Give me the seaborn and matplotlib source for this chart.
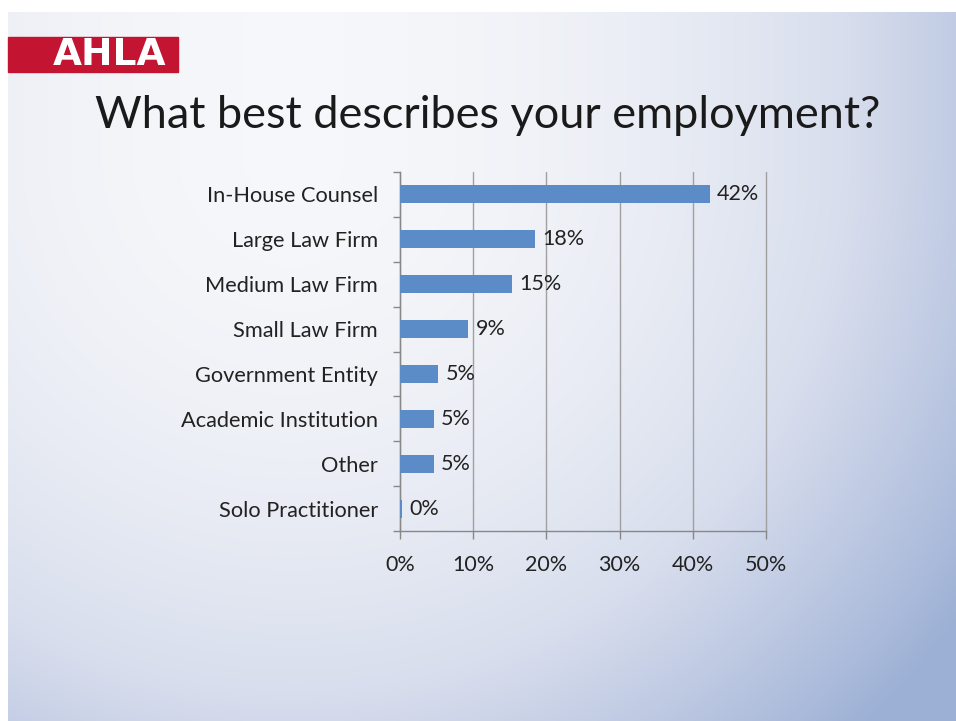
import numpy as np
import pandas as pd
import seaborn as sns
import matplotlib.pyplot as plt
from matplotlib.colors import LinearSegmentedColormap
from matplotlib.patches import Rectangle

categories = ['In-House Counsel', 'Large Law Firm', 'Medium Law Firm', 'Small Law Firm',
              'Government Entity', 'Academic Institution', 'Other', 'Solo Practitioner']
shares = [42.3, 18.4, 15.3, 9.3, 5.2, 4.6, 4.6, 0.3]
value_labels = ['42%', '18%', '15%', '9%', '5%', '5%', '5%', '0%']
x_ticks = [0, 10, 20, 30, 40, 50]

df = pd.DataFrame({'category': categories, 'share': shares})

sns.set_theme(style='white')
plt.rcParams['font.family'] = ['Lato', 'DejaVu Sans']

fig = plt.figure(figsize=(9.56, 7.21), dpi=100)
fig.patch.set_facecolor('white')

# slide background: light in the upper middle, bluer to the right and bottom
W, H = 952, 709
gx, gy = np.meshgrid(np.linspace(0, 1, W), np.linspace(0, 1, H))
grad = 0.66 * ((gx - 0.3) / 0.7) ** 2 + 0.5 * np.clip((gy - 0.2) / 0.8, 0, None) ** 2
grad = np.clip(grad, 0, 1)
cmap = LinearSegmentedColormap.from_list(
    'slide', [(0, '#f6f7fa'), (0.45, '#d8deed'), (0.6, '#c7d0e6'), (1, '#9cb0d5')])
fig.figimage(cmap(grad), xo=8, yo=0, origin='upper', zorder=0)

# AHLA logo
fig.patches.append(Rectangle((8 / 956, 1 - 72 / 721), 170 / 956, 35 / 721,
                             transform=fig.transFigure, color='#c31432', zorder=2))
fig.text(110 / 956, 1 - 55 / 721, 'AHLA', family='DejaVu Sans', weight='bold',
         fontsize=27, color='white', ha='center', va='center', zorder=3)

fig.text(488 / 956, 1 - 116 / 721, 'What best describes your employment?',
         fontsize=32.5, color='#1a1a1a', ha='center', va='center')

ax = fig.add_axes([400 / 956, 1 - 531 / 721, 366 / 956, 359 / 721])
ax.set_zorder(2)
ax.patch.set_alpha(0)
sns.barplot(data=df, y='category', x='share', orient='h', color='#5b8cc7',
            width=0.4, saturation=1, linewidth=0, ax=ax, zorder=3)

for i, (v, lab) in enumerate(zip(shares, value_labels)):
    ax.text(v + 1.0, i, lab, va='center', ha='left', fontsize=15.5, color='#222222')

ax.set_xlim(0, 50)
ax.set_ylim(7.5, -0.5)
ax.set_xticks(x_ticks)
ax.set_xticklabels([f'{t}%' for t in x_ticks], fontsize=15.5, color='#222222')
ax.set_yticks(range(len(categories)))
ax.set_yticklabels(categories, fontsize=15.7, color='#222222')
ax.set_yticks(np.arange(-0.5, 8, 1), minor=True)
ax.tick_params(axis='y', which='major', length=0, pad=16)
ax.tick_params(axis='y', which='minor', length=5, color='#888888', width=1, left=True)
ax.tick_params(axis='x', length=6, color='#888888', width=1, bottom=True, pad=11)
ax.grid(axis='x', color='#a0a0a0', linewidth=1, zorder=0)
for gl in ax.get_xgridlines():
    gl.set_clip_on(False)
ax.set_axisbelow(True)
for side in ['top', 'right']:
    ax.spines[side].set_visible(False)
for side in ['left', 'bottom']:
    ax.spines[side].set_color('#888888')
    ax.spines[side].set_linewidth(1)
ax.set_xlabel('')
ax.set_ylabel('')

fig.savefig('out.png', dpi=100)
